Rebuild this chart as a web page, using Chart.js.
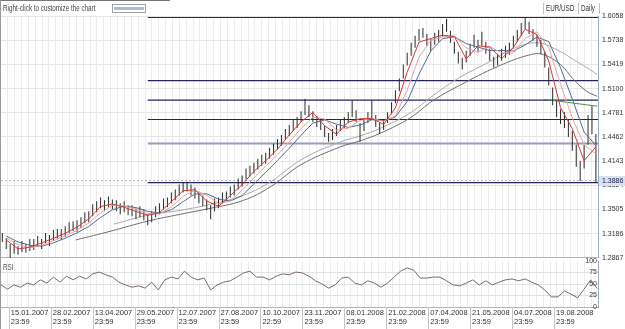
<!DOCTYPE html>
<html>
<head>
<meta charset="utf-8">
<script src="https://cdn.jsdelivr.net/npm/chart.js@4.4.1/dist/chart.umd.min.js"></script>
<style>
  body { margin:0; width:625px; height:329px; overflow:hidden; background:#fff; position:relative;
         font-family:'Liberation Sans',Arial,sans-serif; font-size:9px; color:#444; }
  .abs { position:absolute; }
  .narrow { transform:scaleX(0.7); transform-origin:0 0; white-space:nowrap; }
  #frameTop { left:0; top:0; width:170px; height:1px; background:#777; }
  #frameLeft { left:0; top:0; width:1px; height:329px; background:#999; }
  #topRule { left:0; top:16px; width:598px; height:1px; background:#c8c8c8; }
  #hint { left:3px; top:3px; }
  #swatch { left:112px; top:4px; width:32px; height:7px; border:1px solid #a4a4a4; background:#fff; }
  #swatch div { margin:2px 1px; height:3px; background:#aebbe0; }
  .sep { top:3px; width:1px; height:11px; background:#c0c0c0; }
  #sym { left:546px; top:3px; color:#333; }
  #per { left:581px; top:3px; color:#333; }
  #rsiName { left:3px; top:262px; color:#555; }
  #mainBox { left:0; top:0; }
  #rsiBox { left:0; top:255px; }
</style>
</head>
<body>
<div class="abs" id="topRule"></div>
<div class="abs" id="mainBox"><canvas id="main" width="625" height="266"></canvas></div>
<div class="abs" id="rsiBox"><canvas id="rsi" width="625" height="74"></canvas></div>
<div class="abs" id="frameTop"></div>
<div class="abs" id="frameLeft"></div>
<div class="abs narrow" id="hint">Right-click to customize the chart</div>
<div class="abs" id="swatch"><div></div></div>
<div class="abs sep" style="left:543px"></div>
<div class="abs narrow" id="sym">EUR/USD</div>
<div class="abs sep" style="left:578px"></div>
<div class="abs narrow" id="per">Daily</div>
<div class="abs sep" style="left:599px"></div>
<div class="abs narrow" id="rsiName">RSI</div>

<script>
  // EUR/USD daily, janvier 2007 -> septembre 2008
  // x = numero de seance (0 = debut du graphique)

  // une barre high/low toutes les 3 seances
  const BAR_STEP = 3;
  const BAR_FIRST = 1;
  const barHigh = [
    1.3194,1.3128,1.3050,1.3089,1.3023,1.3089,1.3050,1.3115,1.3115,1.3154,
    1.3115,1.3194,1.3167,1.3233,1.3246,1.3246,1.3285,1.3337,1.3350,1.3363,
    1.3403,1.3468,1.3481,1.3573,1.3612,1.3664,1.3625,1.3677,1.3638,1.3625,
    1.3586,1.3612,1.3560,1.3560,1.3521,1.3547,1.3508,1.3442,1.3481,1.3547,
    1.3586,1.3651,1.3664,1.3730,1.3769,1.3835,1.3861,1.3870,1.3835,1.3795,
    1.3730,1.3690,1.3638,1.3560,1.3651,1.3664,1.3730,1.3743,1.3808,1.3835,
    1.3913,1.3952,1.4044,1.4083,1.4122,1.4174,1.4227,1.4253,1.4318,1.4371,
    1.4436,1.4488,1.4567,1.4619,1.4685,1.4724,1.4802,1.4967,1.4881,1.4802,
    1.4737,1.4698,1.4606,1.4515,1.4567,1.4619,1.4685,1.4724,1.4789,1.4946,
    1.4815,1.4645,1.4698,1.4789,1.4946,1.4750,1.4645,1.4698,1.4789,1.4920,
    1.5077,1.5234,1.5417,1.5574,1.5705,1.5796,1.5888,1.5901,1.5822,1.5757,
    1.5835,1.5875,1.5953,1.6018,1.5862,1.5718,1.5587,1.5508,1.5600,1.5692,
    1.5809,1.5744,1.5849,1.5718,1.5626,1.5521,1.5561,1.5626,1.5665,1.5705,
    1.5796,1.5875,1.5966,1.6038,1.5979,1.5888,1.5809,1.5744,1.5587,1.5378,
    1.5116,1.4933,1.4828,1.4789,1.4698,1.4541,1.4358,1.4148,1.4358,1.4750,
    1.4868,1.4501
  ];
  const barLow = [
    1.3076,1.2984,1.2867,1.2919,1.2906,1.2945,1.2932,1.2958,1.2971,1.3010,
    1.2984,1.3050,1.3023,1.3089,1.3115,1.3102,1.3141,1.3194,1.3220,1.3207,
    1.3259,1.3324,1.3337,1.3416,1.3468,1.3521,1.3481,1.3534,1.3508,1.3481,
    1.3442,1.3468,1.3429,1.3416,1.3377,1.3403,1.3364,1.3298,1.3337,1.3403,
    1.3442,1.3508,1.3534,1.3586,1.3625,1.3690,1.3730,1.3743,1.3690,1.3651,
    1.3586,1.3547,1.3495,1.3377,1.3481,1.3521,1.3586,1.3612,1.3664,1.3690,
    1.3769,1.3808,1.3900,1.3939,1.3978,1.4031,1.4083,1.4109,1.4174,1.4227,
    1.4292,1.4345,1.4423,1.4475,1.4541,1.4580,1.4658,1.4750,1.4724,1.4658,
    1.4593,1.4554,1.4462,1.4397,1.4423,1.4475,1.4541,1.4580,1.4645,1.4724,
    1.4658,1.4397,1.4541,1.4645,1.4711,1.4593,1.4501,1.4554,1.4645,1.4763,
    1.4907,1.5064,1.5234,1.5404,1.5535,1.5639,1.5731,1.5770,1.5665,1.5600,
    1.5678,1.5718,1.5783,1.5849,1.5705,1.5561,1.5430,1.5352,1.5443,1.5535,
    1.5639,1.5587,1.5665,1.5561,1.5469,1.5378,1.5404,1.5469,1.5508,1.5548,
    1.5639,1.5718,1.5796,1.5888,1.5822,1.5731,1.5652,1.5561,1.5378,1.5142,
    1.4881,1.4724,1.4632,1.4580,1.4462,1.4279,1.4070,1.3880,1.4044,1.4358,
    1.4501,1.3861
  ];

  // moyennes mobiles courtes, un point toutes les 9 seances
  const MA_STEP = 9;
  const MA_FIRST = 4;
  const maFast = [
    1.3102,1.2984,1.3007,1.3063,1.3124,1.3190,1.3272,1.3381,1.3543,1.3577,
    1.3534,1.3478,1.3429,1.3464,1.3608,1.3752,1.3765,1.3616,1.3547,1.3687,
    1.3831,1.4008,1.4148,1.4301,1.4488,1.4662,1.4785,1.4610,1.4498,1.4658,
    1.4702,1.4707,1.4628,1.4845,1.5316,1.5714,1.5761,1.5805,1.5787,1.5491,
    1.5665,1.5648,1.5495,1.5643,1.5884,1.5813,1.5465,1.4851,1.4571,1.4148,
    1.4331
  ];
  const maMid = [
    1.3128,1.3043,1.2995,1.3034,1.3093,1.3157,1.3230,1.3326,1.3462,1.3560,
    1.3555,1.3505,1.3453,1.3446,1.3536,1.3680,1.3759,1.3691,1.3581,1.3616,
    1.3759,1.3920,1.4078,1.4224,1.4394,1.4575,1.4724,1.4698,1.4554,1.4577,
    1.4679,1.4704,1.4668,1.4737,1.5081,1.5515,1.5737,1.5783,1.5796,1.5639,
    1.5578,1.5656,1.5571,1.5569,1.5764,1.5849,1.5639,1.5158,1.4711,1.4359,
    1.4240
  ];
  const maSlow = [
    1.3154,1.3076,1.3032,1.3019,1.3064,1.3126,1.3195,1.3281,1.3399,1.3500,
    1.3551,1.3530,1.3480,1.3457,1.3501,1.3608,1.3709,1.3712,1.3642,1.3616,
    1.3688,1.3842,1.3995,1.4152,1.4313,1.4485,1.4645,1.4686,1.4631,1.4589,
    1.4619,1.4688,1.4679,1.4726,1.4930,1.5291,1.5597,1.5760,1.5784,1.5694,
    1.5648,1.5601,1.5603,1.5596,1.5675,1.5780,1.5720,1.5376,1.4962,1.4524,
    1.4350
  ];

  // moyennes longues (grises)
  const longUpDays = [86,112,137,160,185,206,229,259,274,290,312,330,350,373,389,409,427,437,447,455];
  const longUpVals = [1.3311,1.3429,1.3494,1.3573,1.3691,1.3874,1.4161,1.4397,1.4475,1.4580,
                      1.4776,1.5012,1.5247,1.5456,1.5613,1.5705,1.5587,1.5482,1.5378,1.5286];
  const longLowDays = [57,84,112,137,160,185,206,229,259,274,290,312,330,350,379,404,414,427,437,447,455];
  const longLowVals = [1.3102,1.3220,1.3351,1.3442,1.3521,1.3625,1.3808,1.4096,1.4331,1.4410,1.4515,
                       1.4711,1.4946,1.5142,1.5391,1.5548,1.5548,1.5417,1.5221,1.5064,1.4998];

  // ligne de tendance verte
  const trendDays = [414, 455];
  const trendVals = [1.4959, 1.4868];

  // retracements de Fibonacci
  const fibStart = 112;
  const fibEnd = 455.6;
  const fibLevels = [1.6038, 1.5206, 1.4949, 1.4692, 1.4374, 1.3860];
  const fibColors = ['#24245c','#24245c','#24245c','#24245c','#9c9cba','#24245c'];

  const lastPrice = 1.3886;
  const priceTicks = [1.6058,1.5738,1.5419,1.5100,1.4781,1.4462,1.4143,1.3824,1.3505,1.3186,1.2867];

  // RSI, un point toutes les 5 seances
  const RSI_STEP = 5;
  const rsiValues = [
    48,39,48,43,52,48,59,52,65,54,
    67,59,67,61,72,76,70,65,54,48,
    43,46,41,54,37,59,65,61,78,65,
    59,63,37,48,54,57,65,74,78,65,
    65,59,67,72,70,76,74,67,57,50,
    41,48,63,65,52,48,57,52,43,52,
    65,78,85,80,63,63,65,65,57,48,
    46,52,59,48,57,48,54,59,61,57,
    61,54,48,37,22,22,35,28,20,39,
    59,40
  ];
  const rsiTicks = [0, 25, 50, 75, 100];

  // axe des dates
  const labelDays = [6,38,70,102,134,166,198,230,262,294,326,358,390,422];
  const dateLabels = ['15.01.2007','28.02.2007','13.04.2007','29.05.2007','12.07.2007','27.08.2007',
                      '10.10.2007','23.11.2007','08.01.2008','21.02.2008','07.04.2008','21.05.2008',
                      '04.07.2008','19.08.2008'];
  const timeLabels = ['23:59','23:59','23:59','23:59','23:59','23:59','22:59','23:59','23:59','23:59',
                      '23:59','23:59','23:59','23:59'];

  const X_MAX = 455.6;
  const FONT = "'Liberation Sans', Arial, sans-serif";
  Chart.defaults.font.family = FONT;
  Chart.defaults.font.size = 7;
  Chart.defaults.color = '#333';

  // grille verticale ~ hebdomadaire
  const gridDays = [];
  for (let d = 5.1; d < X_MAX; d += 5.24) gridDays.push(+d.toFixed(2));

  function pts(days, vals) {
    return vals.map((v, i) => ({ x: days[i], y: v }));
  }
  function stepDays(first, step, n) {
    const out = [];
    for (let i = 0; i < n; i++) out.push(first + step * i);
    return out;
  }
  function lineSet(data, color, width, extra) {
    return Object.assign({
      type: 'line', data: data, borderColor: color, borderWidth: width,
      pointRadius: 0, fill: false, tension: 0
    }, extra || {});
  }

  const maDays = stepDays(MA_FIRST, MA_STEP, maFast.length);
  const barDays = stepDays(BAR_FIRST, BAR_STEP, barHigh.length);

  const mainSets = [
    lineSet(pts(maDays, maFast), '#cf3a36', 1),
    lineSet(pts(maDays, maMid), '#e6a3a0', 1),
    lineSet(pts(maDays, maSlow), '#4f6c98', 1),
    {
      type: 'bar',
      data: barDays.map((d, i) => ({ x: d, y: [barLow[i], barHigh[i]] })),
      backgroundColor: '#2a2a2a', borderWidth: 0, barThickness: 1, inflateAmount: 0
    },
    lineSet(pts(longUpDays, longUpVals), '#a9a9a9', 1, { tension: 0.4 }),
    lineSet(pts(longLowDays, longLowVals), '#6f6f6f', 1, { tension: 0.4 }),
    lineSet(pts(trendDays, trendVals), '#3f9a45', 1)
  ];
  fibLevels.forEach((lv, i) => {
    mainSets.push(lineSet([{ x: fibStart, y: lv }, { x: fibEnd, y: lv }], fibColors[i],
                          fibColors[i] === '#9c9cba' ? 2 : 1.2));
  });
  mainSets.push(lineSet([{ x: 0, y: lastPrice }, { x: X_MAX, y: lastPrice }], '#b8b8b8', 1,
                        { borderDash: [2, 2] }));

  // etiquette du dernier cours sur l'axe des prix
  const lastPriceTag = {
    id: 'lastPriceTag',
    afterDraw(chart) {
      const y = Math.round(chart.scales.y.getPixelForValue(lastPrice));
      const ctx = chart.ctx;
      const left = chart.chartArea.right + 1;
      ctx.save();
      ctx.fillStyle = '#d9e1f1';
      ctx.fillRect(left, y - 5, chart.width - left, 10);
      ctx.fillStyle = '#1d1d44';
      ctx.font = '7px ' + FONT;
      ctx.textBaseline = 'middle';
      ctx.fillText(lastPrice.toFixed(4), left + 3, y + 0.5);
      ctx.restore();
    }
  };

  new Chart(document.getElementById('main').getContext('2d'), {
    type: 'line',
    data: { datasets: mainSets },
    plugins: [lastPriceTag],
    options: {
      responsive: false, animation: false, events: [],
      layout: { padding: { top: 16, left: 1, right: 0, bottom: 6 } },
      plugins: { legend: { display: false }, tooltip: { enabled: false } },
      scales: {
        x: {
          type: 'linear', min: 0, max: X_MAX, offset: false,
          afterBuildTicks: (s) => { s.ticks = gridDays.map((v) => ({ value: v })); },
          ticks: { display: false },
          grid: { color: '#ececec', drawTicks: false, offset: false },
          border: { display: true, color: '#b4b4b4' }
        },
        y: {
          type: 'linear', position: 'right', min: 1.2867, max: 1.6058,
          afterBuildTicks: (s) => { s.ticks = priceTicks.map((v) => ({ value: v })); },
          afterFit: (s) => { s.width = 27; },
          ticks: { padding: 4, autoSkip: false, callback: (v) => v.toFixed(4) },
          grid: { color: '#e6e6e6', drawTicks: false },
          border: { display: true, color: '#9fabc2' }
        }
      }
    }
  });

  // petits traits de separation sous les dates
  const dateSeparators = {
    id: 'dateSeparators',
    afterDraw(chart) {
      const ctx = chart.ctx;
      const xs = chart.scales.x;
      ctx.save();
      ctx.strokeStyle = '#c6c6c6';
      ctx.lineWidth = 1;
      labelDays.forEach((d) => {
        const x = Math.round(xs.getPixelForValue(d)) + 0.5;
        ctx.beginPath();
        ctx.moveTo(x, chart.chartArea.bottom);
        ctx.lineTo(x, chart.height);
        ctx.stroke();
      });
      ctx.restore();
    }
  };

  const rsiAxisTicks = gridDays.concat(labelDays).sort((a, b) => a - b);

  new Chart(document.getElementById('rsi').getContext('2d'), {
    type: 'line',
    data: {
      datasets: [lineSet(pts(stepDays(0, RSI_STEP, rsiValues.length), rsiValues), '#7c6a6a', 1)]
    },
    plugins: [dateSeparators],
    options: {
      responsive: false, animation: false, events: [],
      layout: { padding: { top: 6, left: 1, right: 27, bottom: 0 } },
      plugins: { legend: { display: false }, tooltip: { enabled: false } },
      scales: {
        x: {
          type: 'linear', min: 0, max: X_MAX, offset: false,
          afterBuildTicks: (s) => { s.ticks = rsiAxisTicks.map((v) => ({ value: v })); },
          afterFit: (s) => { s.height = 22; },
          ticks: {
            autoSkip: false, maxRotation: 0, align: 'start', padding: 2, labelOffset: 2,
            font: { size: 7.5, lineHeight: 1.15 },
            callback: (v) => {
              const i = labelDays.indexOf(v);
              return i < 0 ? '' : [dateLabels[i], timeLabels[i]];
            }
          },
          grid: {
            drawTicks: false, offset: false,
            color: (c) => (c.tick && labelDays.indexOf(c.tick.value) >= 0) ? 'rgba(0,0,0,0)' : '#ececec'
          },
          border: { display: true, color: '#b4b4b4' }
        },
        y: {
          type: 'linear', position: 'right', min: 0, max: 100,
          afterBuildTicks: (s) => { s.ticks = rsiTicks.map((v) => ({ value: v })); },
          afterFit: (s) => { s.width = 0; },
          ticks: { mirror: true, padding: -1, autoSkip: false },
          grid: {
            drawTicks: false,
            color: (c) => (c.tick && (c.tick.value === 0 || c.tick.value === 100)) ? 'rgba(0,0,0,0)' : '#e2e2e2'
          },
          border: { display: true, color: '#9fabc2' }
        }
      }
    }
  });
</script>
</body>
</html>
